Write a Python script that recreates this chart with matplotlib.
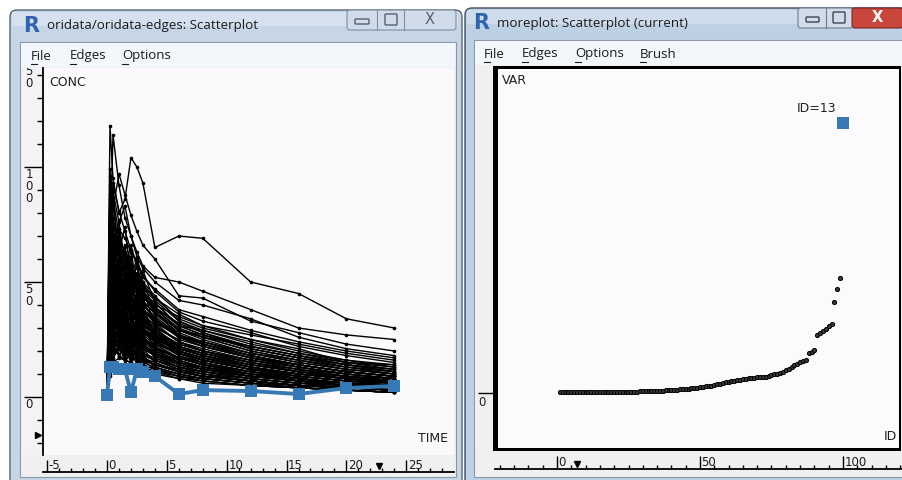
import matplotlib
matplotlib.use("Agg")
import matplotlib.pyplot as plt
from matplotlib.patches import Rectangle, FancyBboxPatch
from matplotlib.ticker import FixedLocator, MultipleLocator
from matplotlib.transforms import blended_transform_factory, offset_copy

W, H = 903, 480
BLUE = "#3679B4"

# ---- left window: concentration / time profiles, one row per subject ----
times = [0, 0.25, 0.5, 1, 1.5, 2, 2.5, 3, 4, 6, 8, 12, 16, 20, 24]
subject_conc = [
    [0, 118, 95, 80, 86, 104, 100, 93, 65, 70, 69, 50, 45, 34, 30],
    [0, 64, 114, 92, 78, 70, 63, 57, 52, 50, 46, 38, 30, 27, 25],
    [0, 46, 82, 97, 88, 79, 72, 66, 60, 44, 43, 33, 28, 23, 20],
    [0, 72, 89, 76, 83, 70, 61, 56, 50, 42, 40, 34, 26, 21, 18],
    [0, 96, 86, 71, 62, 56, 51, 46, 40, 35, 31, 27, 23, 19, 16],
    [0, 31, 56, 73, 69, 63, 59, 53, 46, 37, 33, 28, 22, 18, 15],
    [0, 84, 75, 67, 59, 55, 50, 45, 41, 31, 29, 23, 19, 16, 13],
    [0, 51, 67, 61, 57, 66, 56, 49, 43, 36, 31, 25, 21, 15, 14],
    [0, 63, 71, 65, 56, 51, 47, 41, 37, 29, 26, 22, 18, 14, 12],
    [0, 41, 59, 67, 61, 53, 49, 46, 39, 32, 28, 21, 17, 14, 11],
    [0, 75, 62, 58, 50, 47, 43, 40, 34, 27, 24, 19, 15, 12, 10],
    [0, 28, 44, 56, 63, 58, 52, 47, 42, 33, 29, 24, 19, 15, 13],
    [0, 55, 78, 60, 52, 48, 45, 38, 33, 26, 23, 18, 14, 11, 9],
    [0, 36, 50, 58, 54, 49, 57, 44, 38, 30, 26, 20, 16, 12, 10],
    [0, 88, 70, 54, 47, 43, 40, 36, 31, 24, 21, 16, 13, 10, 8],
    [0, 22, 38, 49, 53, 50, 46, 43, 39, 31, 27, 22, 18, 14, 12],
    [0, 58, 64, 52, 45, 42, 38, 35, 30, 25, 22, 17, 14, 11, 9],
    [0, 44, 53, 47, 50, 44, 41, 37, 33, 26, 24, 19, 15, 12, 10],
    [0, 67, 55, 48, 43, 39, 36, 33, 28, 22, 19, 15, 12, 9, 8],
    [0, 18, 30, 42, 48, 52, 47, 44, 37, 29, 25, 19, 16, 13, 11],
    [0, 49, 60, 55, 48, 40, 37, 34, 29, 23, 20, 16, 12, 10, 8],
    [0, 33, 45, 51, 46, 43, 40, 38, 32, 27, 23, 18, 14, 11, 9],
    [0, 71, 58, 46, 40, 36, 33, 30, 26, 21, 18, 14, 11, 8, 7],
    [0, 26, 41, 46, 44, 47, 42, 38, 34, 26, 22, 17, 14, 11, 9],
    [0, 53, 48, 44, 41, 37, 34, 31, 27, 21, 18, 14, 11, 9, 7],
    [0, 39, 52, 48, 42, 38, 35, 32, 27, 22, 19, 15, 12, 9, 7],
    [0, 61, 50, 42, 37, 33, 30, 28, 24, 19, 16, 12, 10, 8, 6],
    [0, 24, 35, 41, 39, 36, 34, 31, 28, 23, 20, 16, 13, 10, 8],
    [0, 47, 43, 39, 36, 33, 31, 28, 24, 19, 16, 12, 9, 7, 6],
    [0, 30, 40, 44, 38, 35, 33, 29, 25, 20, 17, 13, 10, 8, 6],
    [0, 57, 46, 38, 33, 30, 28, 25, 21, 17, 14, 11, 8, 6, 5],
    [0, 20, 32, 37, 36, 33, 31, 29, 25, 21, 18, 14, 11, 9, 7],
    [0, 42, 38, 35, 32, 29, 27, 25, 21, 17, 15, 11, 9, 7, 5],
    [0, 35, 44, 40, 35, 31, 28, 26, 22, 17, 14, 10, 8, 6, 5],
    [0, 16, 27, 34, 33, 31, 29, 27, 23, 19, 16, 12, 10, 8, 6],
    [0, 52, 41, 34, 30, 27, 25, 23, 19, 15, 12, 9, 7, 5, 4],
    [0, 27, 36, 33, 30, 28, 26, 24, 20, 16, 13, 10, 8, 6, 5],
    [0, 38, 33, 30, 27, 25, 23, 21, 18, 14, 12, 9, 7, 5, 4],
    [0, 23, 30, 32, 29, 26, 24, 22, 19, 15, 13, 10, 7, 6, 4],
    [0, 45, 35, 29, 25, 23, 21, 19, 16, 12, 10, 7, 5, 4, 3],
    [0, 14, 22, 27, 28, 26, 24, 22, 19, 15, 13, 10, 8, 6, 5],
    [0, 32, 29, 26, 23, 21, 19, 17, 15, 11, 9, 7, 5, 4, 3],
    [0, 19, 26, 24, 22, 20, 19, 17, 14, 11, 9, 7, 5, 4, 3],
    [0, 29, 24, 21, 19, 17, 16, 14, 12, 9, 8, 6, 4, 3, 2],
    [0, 12, 19, 22, 21, 19, 18, 16, 14, 11, 9, 7, 5, 4, 3],
    [0, 25, 21, 18, 16, 15, 13, 12, 10, 8, 6, 5, 4, 3, 2],
    [0, 10, 15, 17, 16, 15, 14, 13, 11, 9, 7, 5, 4, 3, 2],
    [0, 80, 68, 73, 61, 57, 53, 48, 43, 34, 30, 25, 20, 16, 14],
    [0, 99, 78, 64, 57, 53, 47, 44, 37, 29, 27, 21, 17, 13, 11],
    [0, 66, 93, 81, 72, 64, 59, 52, 47, 38, 35, 29, 24, 20, 17],
    [0, 58, 35, 62, 40, 55, 33, 48, 30, 22, 18, 13, 10, 8, 6],
    [0, 40, 68, 38, 57, 42, 50, 36, 31, 24, 20, 15, 11, 9, 7],
    [0, 77, 45, 60, 38, 52, 41, 39, 27, 20, 17, 12, 9, 7, 5],
    [0, 33, 52, 29, 46, 35, 44, 30, 26, 19, 15, 11, 8, 6, 5],
    [0, 62, 40, 53, 34, 47, 30, 37, 24, 18, 15, 11, 8, 6, 4],
    [0, 25, 47, 55, 36, 42, 38, 33, 28, 21, 18, 13, 10, 8, 6],
    [0, 69, 50, 36, 48, 31, 40, 28, 25, 18, 14, 10, 7, 5, 4],
    [0, 21, 39, 45, 49, 34, 43, 32, 27, 20, 17, 13, 10, 8, 6],
    [0, 54, 30, 44, 27, 39, 25, 31, 21, 15, 12, 9, 7, 5, 4],
    [0, 37, 58, 41, 35, 46, 32, 29, 26, 20, 16, 12, 9, 7, 6],
    [0, 48, 27, 38, 24, 33, 22, 27, 19, 14, 11, 8, 6, 5, 3],
    [0, 29, 43, 34, 41, 28, 35, 25, 23, 17, 14, 11, 8, 6, 5],
    [0, 65, 44, 31, 39, 27, 34, 24, 22, 16, 13, 9, 7, 5, 4],
    [0, 18, 34, 40, 31, 37, 28, 30, 24, 19, 16, 12, 10, 8, 7],
    [0, 43, 24, 35, 22, 30, 20, 24, 17, 13, 11, 8, 6, 4, 3],
    [0, 31, 49, 27, 38, 25, 31, 22, 20, 15, 12, 9, 7, 5, 4],
    [0, 56, 37, 28, 34, 24, 29, 21, 18, 13, 10, 7, 5, 4, 3],
    [0, 15, 28, 36, 26, 32, 24, 26, 21, 17, 14, 11, 9, 7, 6],
    [0, 39, 22, 31, 19, 27, 18, 21, 15, 11, 9, 7, 5, 4, 3],
    [0, 26, 40, 24, 33, 21, 28, 19, 17, 13, 11, 8, 6, 5, 4],
    [0, 47, 31, 25, 29, 20, 25, 18, 16, 12, 9, 7, 5, 4, 3],
    [0, 13, 24, 30, 23, 27, 21, 22, 18, 15, 12, 10, 8, 6, 5],
    [0, 35, 19, 27, 17, 23, 16, 18, 13, 10, 8, 6, 4, 3, 2],
    [0, 22, 35, 21, 28, 18, 24, 16, 14, 11, 9, 7, 5, 4, 3],
    [0, 41, 27, 21, 25, 17, 21, 15, 13, 10, 8, 6, 4, 3, 2],
    [0, 11, 20, 26, 19, 23, 18, 19, 16, 13, 11, 9, 7, 6, 5],
    [0, 30, 16, 23, 15, 20, 14, 16, 12, 9, 7, 5, 4, 3, 2],
    [0, 19, 30, 18, 24, 16, 20, 14, 12, 10, 8, 6, 5, 4, 3],
    [0, 36, 23, 18, 21, 15, 18, 13, 11, 8, 7, 5, 4, 3, 2],
    [0, 9, 17, 22, 17, 20, 15, 17, 14, 12, 10, 8, 6, 5, 4],
    [0, 86, 52, 70, 46, 61, 44, 50, 37, 27, 23, 18, 14, 11, 9],
    [0, 73, 90, 55, 66, 48, 58, 45, 39, 29, 26, 20, 16, 13, 10],
    [0, 92, 60, 77, 50, 64, 47, 55, 41, 31, 27, 21, 17, 14, 11],
    [0, 50, 85, 63, 74, 52, 60, 50, 44, 33, 28, 22, 18, 15, 12],
    [0, 81, 66, 49, 62, 45, 53, 42, 36, 28, 24, 18, 14, 11, 9],
    [0, 60, 74, 52, 43, 57, 46, 40, 35, 27, 23, 17, 13, 10, 8],
    [0, 44, 63, 70, 51, 45, 54, 38, 34, 26, 22, 17, 13, 10, 8],
    [0, 68, 48, 57, 65, 40, 36, 42, 32, 24, 20, 15, 11, 9, 7],
    [0, 34, 46, 39, 52, 44, 39, 35, 29, 22, 19, 14, 11, 9, 7],
    [0, 57, 42, 49, 37, 43, 33, 34, 27, 20, 17, 13, 10, 8, 6],
]
selected_conc = [0.9, 13, 13, 12, 12, 2, 12, 11, 9, 1.3, 3, 2.6, 1.3, 3.9, 4.8]
time_ticks = [-5, 0, 5, 10, 15, 20, 25]
conc_ticks = [0, 50, 100, 150]
time_marker = 22.7
conc_marker = -16.5

# ---- right window: VAR by sorted ID ----
var_rank = list(range(1, 100))
var_values = [
    0.07, 0.07, 0.07, 0.07, 0.07, 0.07, 0.08, 0.08, 0.08, 0.08, 0.08, 0.08,
    0.09, 0.09, 0.09, 0.10, 0.10, 0.10, 0.11, 0.11, 0.11, 0.12, 0.12, 0.13, 0.13,
    0.14, 0.14, 0.15, 0.16, 0.17, 0.18, 0.19, 0.20, 0.21, 0.22,
    0.23, 0.25, 0.26, 0.28, 0.30, 0.32, 0.34, 0.37, 0.40, 0.42, 0.44, 0.47, 0.50, 0.53,
    0.58, 0.62, 0.66, 0.70, 0.75, 0.80, 0.86, 0.93, 1.00, 1.10,
    1.15, 1.20, 1.25, 1.30, 1.35, 1.40, 1.45, 1.48, 1.52, 1.55, 1.58, 1.60, 1.63, 1.65,
    1.75, 1.82, 1.88, 1.95, 2.05, 2.15, 2.30, 2.45, 2.60,
    2.80, 2.95, 3.10, 3.20, 3.30, 4.00, 4.15, 4.30,
    5.80, 6.00, 6.20, 6.40, 6.70, 6.90,
    9.10, 10.40, 11.50,
]
sel_rank = 100
sel_var = 27.0
sel_label = "ID=13"
rank_ticks = [0, 50, 100]
var_ticks = [0]
rank_marker = 7

# pixel origin / pixels-per-unit of each scale in the screenshot
T_ORG, T_SC = 107, 11.97
C_ORG, C_SC = 397, 2.3
R_ORG, R_SC = 557, 2.86
V_ORG, V_SC = 393, 10.0

UI_FONT = "Open Sans"
GTK_FONT = "DejaVu Sans"

fig = plt.figure(figsize=(W / 100, H / 100), dpi=100)
fig.patch.set_facecolor("white")


def px_axes(x0, y0, x1, y1, **kw):
    return fig.add_axes([x0 / W, 1 - y1 / H, (x1 - x0) / W, (y1 - y0) / H], **kw)


def ftext(x, y, s, **kw):
    return fig.text(x / W, 1 - y / H, s, **kw)


def set_xpx(ax, x0, x1, org, sc):
    ax.set_xlim((x0 - org) / sc, (x1 - org) / sc)


def set_ypx(ax, y0, y1, org, sc):
    ax.set_ylim((org - y1) / sc, (org - y0) / sc)


def blank(ax, fc):
    ax.set_facecolor(fc)
    ax.set_xticks([])
    ax.set_yticks([])
    for s in ax.spines.values():
        s.set_visible(False)


# ---- window chrome (drawn in pixel space) ----
bg = px_axes(0, 0, W, H, zorder=-5)
bg.set_xlim(0, W)
bg.set_ylim(H, 0)
bg.axis("off")


def box(x0, y0, x1, y1, fc, ec="none", lw=0, r=0):
    if r:
        p = FancyBboxPatch((x0, y0), x1 - x0, y1 - y0,
                           boxstyle=f"round,pad=0,rounding_size={r}",
                           fc=fc, ec=ec, lw=lw)
    else:
        p = Rectangle((x0, y0), x1 - x0, y1 - y0, fc=fc, ec=ec, lw=lw)
    bg.add_patch(p)


# left window
box(10, 10, 462, 495, "#C7D6E6", "#56657A", 1, r=7)
box(12, 12, 458, 26, "#D5E1EE")
box(20, 42, 456, 477, "#F0F0F0", "#8A98AA", 0.8)
box(21, 43, 455, 67, "#F3F6FA")
bg.plot([21, 455], [67.5, 67.5], color="#DDE3EA", lw=0.8)
# right window
box(465, 8, 915, 495, "#BED0E4", "#3F4B5A", 1, r=7)
box(467, 10, 915, 24, "#CEDCEB")
box(474, 40, 905, 477, "#F0F0F0", "#8A98AA", 0.8)
box(475, 41, 905, 65, "#F3F6FA")
box(493, 66, 901, 451, "black")

# caption buttons
box(347, 10, 456, 30, "#D0DCE9", "#7F8EA1", 0.8, r=3)
bg.plot([377, 377], [10, 30], color="#7F8EA1", lw=0.8)
bg.plot([404, 404], [10, 30], color="#7F8EA1", lw=0.8)
box(355, 19, 369, 24, "none", "#55606E", 1, r=1)
box(385, 14, 397, 25, "none", "#55606E", 1, r=1)
bg.text(430, 19, "X", ha="center", va="center", fontsize=10.5, color="#55606E",
        family=GTK_FONT)
box(798, 8, 853, 28, "#D0DCE9", "#6F7E91", 0.8, r=3)
bg.plot([826, 826], [8, 28], color="#6F7E91", lw=0.8)
box(852, 8, 903, 28, "#C9463D", "#7A2A24", 0.8, r=3)
box(806, 17, 819, 22, "none", "#3D4855", 1, r=1)
box(833, 12, 845, 23, "none", "#3D4855", 1, r=1)
bg.text(877, 17, "X", ha="center", va="center", fontsize=10.5, color="white",
        fontweight="bold", family=GTK_FONT)

# R icons + titles
for x, y in [(31, 26), (481, 23)]:
    bg.text(x, y, "R", ha="center", va="center", fontsize=15, fontweight="bold",
            color="#2F63AE", family=GTK_FONT)
bg.text(47, 26, "oridata/oridata-edges: Scatterplot", va="center", fontsize=9.6,
        color="#1A1A1A", family=UI_FONT)
bg.text(497, 23, "moreplot: Scatterplot (current)", va="center", fontsize=9.6,
        color="#1A1A1A", family=UI_FONT)

# menus
for label, x, y in [("File", 31, 56), ("Edges", 70, 56), ("Options", 122, 56),
                    ("File", 484, 54), ("Edges", 522, 54), ("Options", 575, 54),
                    ("Brush", 640, 54)]:
    bg.text(x, y, label, va="center", fontsize=9.5, color="#1A1A1A", family=UI_FONT)
    bg.plot([x + 0.5, x + 6.5], [y + 7.5, y + 7.5], color="#1A1A1A", lw=0.8)

# ---- left plot ----
ax1 = px_axes(43, 68, 454, 455)
blank(ax1, "#FBF9FB")
set_xpx(ax1, 43, 454, T_ORG, T_SC)
set_ypx(ax1, 68, 455, C_ORG, C_SC)
for row in subject_conc:
    ax1.plot(times, row, color="black", lw=1.0, marker="o", ms=2.6, mew=0)
ax1.plot(times, selected_conc, color=BLUE, lw=2.8, marker="s", ms=8.5, mew=0)

rx1 = px_axes(43, 455, 454, 472)
rx1.set_facecolor("#F0F0F0")
set_xpx(rx1, 43, 454, T_ORG, T_SC)
rx1.set_ylim(0, 1)
for k in ["top", "left", "right"]:
    rx1.spines[k].set_visible(False)
rx1.spines["bottom"].set_linewidth(1.3)
rx1.set_yticks([])
rx1.xaxis.set_major_locator(FixedLocator(time_ticks))
rx1.xaxis.set_minor_locator(MultipleLocator(1))
rx1.tick_params(axis="x", which="major", direction="in", length=12 * 0.72,
                width=1, labelbottom=False)
rx1.tick_params(axis="x", which="minor", direction="in", length=4 * 0.72, width=1)
tr = offset_copy(blended_transform_factory(rx1.transData, rx1.transAxes),
                 fig=fig, x=1.5, y=0, units="dots")
for v in time_ticks:
    rx1.text(v, 0.02, str(v), transform=tr, ha="left", va="bottom", fontsize=8.5,
             color="#1A1A1A", family=GTK_FONT, clip_on=True)
rx1.plot([time_marker], [0.38], marker="v", ms=5, color="black",
         transform=blended_transform_factory(rx1.transData, rx1.transAxes))

ry1 = px_axes(22, 68, 43, 455)
ry1.set_facecolor("#F3F3F3")
set_ypx(ry1, 68, 455, C_ORG, C_SC)
ry1.set_xlim(0, 1)
for k in ["top", "left", "bottom"]:
    ry1.spines[k].set_visible(False)
ry1.spines["right"].set_linewidth(1.3)
ry1.set_xticks([])
ry1.yaxis.tick_right()
ry1.yaxis.set_major_locator(FixedLocator(conc_ticks))
ry1.yaxis.set_minor_locator(MultipleLocator(10))
ry1.tick_params(axis="y", which="major", direction="in", length=19 * 0.72,
                width=1, labelright=False)
ry1.tick_params(axis="y", which="minor", direction="in", length=6 * 0.72, width=1)
tr = offset_copy(blended_transform_factory(ry1.transAxes, ry1.transData),
                 fig=fig, x=0, y=-1, units="dots")
for v in conc_ticks:
    ry1.text(0.16, v, "\n".join(str(v)), transform=tr, ha="left", va="top",
             fontsize=8.5, linespacing=0.88, color="#1A1A1A", family=GTK_FONT,
             clip_on=True)
ry1.plot([0.76], [conc_marker], marker=">", ms=5, color="black",
         transform=blended_transform_factory(ry1.transAxes, ry1.transData))

ftext(49, 83, "CONC", va="center", fontsize=9, color="#1F1F1F", family=GTK_FONT)
ftext(448, 438, "TIME", ha="right", va="center", fontsize=9, color="#1F1F1F",
      family=GTK_FONT)

# ---- right plot ----
ax2 = px_axes(498, 69, 899, 448)
blank(ax2, "#FCFAFC")
set_xpx(ax2, 498, 899, R_ORG, R_SC)
set_ypx(ax2, 69, 448, V_ORG, V_SC)
ax2.plot(var_rank, var_values, linestyle="none", marker="o", ms=3.0,
         mfc="#3A3A3A", mec="black", mew=0.7)
ax2.plot([sel_rank], [sel_var], linestyle="none", marker="s", ms=8.5, color=BLUE,
         mew=0)
ax2.annotate(sel_label, xy=(sel_rank, sel_var), xytext=(-7, 8),
             textcoords="offset pixels", ha="right", va="bottom", fontsize=9,
             color="#1F1F1F", family=GTK_FONT)

rx2 = px_axes(495, 451, 903, 469)
rx2.set_facecolor("#F0F0F0")
set_xpx(rx2, 495, 903, R_ORG, R_SC)
rx2.set_ylim(0, 1)
for k in ["top", "left", "right"]:
    rx2.spines[k].set_visible(False)
rx2.spines["bottom"].set_linewidth(1.3)
rx2.set_yticks([])
rx2.xaxis.set_major_locator(FixedLocator(rank_ticks))
rx2.xaxis.set_minor_locator(MultipleLocator(5))
rx2.tick_params(axis="x", which="major", direction="in", length=13 * 0.72,
                width=1, labelbottom=False)
rx2.tick_params(axis="x", which="minor", direction="in", length=4 * 0.72, width=1)
tr = offset_copy(blended_transform_factory(rx2.transData, rx2.transAxes),
                 fig=fig, x=1.5, y=0, units="dots")
for v in rank_ticks:
    rx2.text(v, 0.02, str(v), transform=tr, ha="left", va="bottom", fontsize=8.5,
             color="#1A1A1A", family=GTK_FONT, clip_on=True)
rx2.plot([rank_marker], [0.3], marker="v", ms=5, color="black",
         transform=blended_transform_factory(rx2.transData, rx2.transAxes))

ry2 = px_axes(475, 69, 493, 448)
ry2.set_facecolor("#F0F0F0")
set_ypx(ry2, 69, 448, V_ORG, V_SC)
ry2.set_xlim(0, 1)
for s in ry2.spines.values():
    s.set_visible(False)
ry2.set_xticks([])
ry2.yaxis.tick_right()
ry2.yaxis.set_major_locator(FixedLocator(var_ticks))
ry2.tick_params(axis="y", which="major", direction="in", length=15 * 0.72,
                width=1, labelright=False)
tr = offset_copy(blended_transform_factory(ry2.transAxes, ry2.transData),
                 fig=fig, x=0, y=-3, units="dots")
for v in var_ticks:
    ry2.text(0.2, v, str(v), transform=tr, ha="left", va="top", fontsize=8.5,
             color="#1A1A1A", family=GTK_FONT, clip_on=True)

ftext(502, 81, "VAR", va="center", fontsize=9, color="#1F1F1F", family=GTK_FONT)
ftext(897, 437, "ID", ha="right", va="center", fontsize=9, color="#1F1F1F",
      family=GTK_FONT)

fig.savefig("out.png", dpi=100)
